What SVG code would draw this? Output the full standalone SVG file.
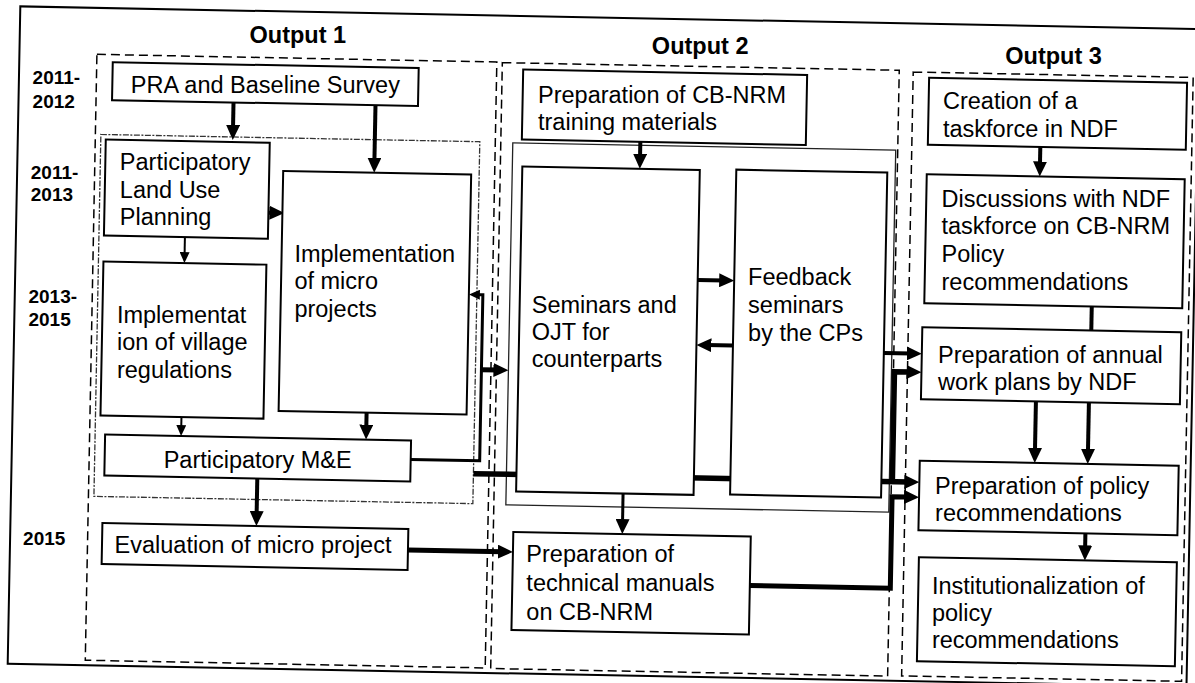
<svg xmlns="http://www.w3.org/2000/svg" width="1195" height="683" viewBox="0 0 1195 683">
<style>
.t{font-family:"Liberation Sans",Arial,sans-serif;font-size:23.5px;fill:#000}
.m{text-anchor:middle}
.h{font-family:"Liberation Sans",Arial,sans-serif;font-size:23.5px;font-weight:bold;fill:#000;text-anchor:middle}
.y{font-family:"Liberation Sans",Arial,sans-serif;font-size:19px;font-weight:bold;fill:#000}
.b{fill:#fff;stroke:#000;stroke-width:2}
.d{fill:none;stroke:#000;stroke-width:1.5;stroke-dasharray:9 5}
.i1{fill:none;stroke:#333;stroke-width:1.3;stroke-dasharray:6 1.5 2 1.5}
.i2{fill:none;stroke:#222;stroke-width:1.3}
.c{fill:none;stroke:#000;stroke-linejoin:miter}
.w2{stroke-width:2}.w3{stroke-width:3}.w4{stroke-width:4}.w5{stroke-width:5}.w55{stroke-width:5.5}
.ah{marker-end:url(#ah)}.as{marker-end:url(#as)}
</style>
<defs>
<marker id="ah" viewBox="0 0 15 14" refX="5" refY="7" markerWidth="15" markerHeight="14" markerUnits="userSpaceOnUse" orient="auto"><path d="M0,0 L15,7 L0,14 z" fill="#000"/></marker>
<marker id="as" viewBox="0 0 11 10" refX="3" refY="5" markerWidth="11" markerHeight="10" markerUnits="userSpaceOnUse" orient="auto"><path d="M0,0 L11,5 L0,10 z" fill="#000"/></marker>
</defs>
<rect x="0" y="0" width="1195" height="683" fill="#fff"/>
<g transform="rotate(1.1 597 341)">
<rect id="frame" x="14" y="17.5" width="1179" height="657.5" fill="none" stroke="#000" stroke-width="2"/>
<g id="output1">
<rect class="d" x="91.5" y="64" width="400" height="606"/>
<text class="h" x="292" y="49" transform="rotate(-1.1 292 42)">Output 1</text>
<rect class="i1" x="97" y="144" width="379" height="362"/>
</g>
<g id="output2">
<rect class="d" x="497" y="64.5" width="397" height="606"/>
<text class="h" x="694.5" y="52" transform="rotate(-1.1 694.5 45)">Output 2</text>
<rect class="i2" x="509" y="144.5" width="383" height="362"/>
</g>
<g id="output3">
<rect class="d" x="908" y="66" width="280" height="604"/>
<text class="h" x="1048" y="55.5" transform="rotate(-1.1 1048 48)">Output 3</text>
</g>
<g id="years">
<g transform="rotate(-1.1 52 106)"><text class="y" x="28" y="94">2011-</text><text class="y" x="28" y="118">2012</text></g>
<g transform="rotate(-1.1 52 200)"><text class="y" x="28" y="189">2011-</text><text class="y" x="28" y="211">2013</text></g>
<g transform="rotate(-1.1 52 324)"><text class="y" x="28" y="313">2013-</text><text class="y" x="28" y="336">2015</text></g>
<text class="y" x="27" y="556" transform="rotate(-1.1 48 550)">2015</text>
</g>
<g id="connectors">
<path class="c w4 ah" d="M229,109.5 V137"/>
<path class="c w4 ah" d="M371,109.5 V167"/>
<path class="c w4 ah" d="M266,219 H272"/>
<path class="c w2 as" d="M183,245 V263"/>
<path class="c w2 as" d="M183,425 V436"/>
<path class="c w4 ah" d="M368,417 V434"/>
<path class="c w3 as" d="M413,463 H482 V297 H476"/>
<path class="c w5 ah" d="M482,372 H499"/>
<path class="c w55 ah" d="M476,476 H912"/>
<path class="c w55 ah" d="M895,478 V366 H912"/>
<path class="c w4 ah" d="M884,347.5 H912"/>
<path class="c w5 ah" d="M754.5,582.5 H895 V491 H912"/>
<path class="c w4 ah" d="M260,485 V522.5"/>
<path class="c w5 ah" d="M412,553.5 H507"/>
<path class="c w4 ah" d="M636.5,141 V158"/>
<path class="c w4 ah" d="M696.5,278 H723"/>
<path class="c w4 ah" d="M733,343 H706.5"/>
<path class="c w3 ah" d="M626,493 V523.5"/>
<path class="c w4 ah" d="M1036.5,138.5 V158"/>
<path class="c w4" d="M1091,297 V321"/>
<path class="c w4 ah" d="M1037,393 V444.5"/>
<path class="c w4 ah" d="M1090,393 V444.5"/>
<path class="c w4 ah" d="M1089,524 V541"/>
</g>
<g id="pra"><rect class="b" x="107.5" y="71.5" width="306" height="38"/><g transform="rotate(-1.1 260.5 90.5)"><text class="t m" x="260.5" y="99">PRA and Baseline Survey</text></g></g>
<g id="plup"><rect class="b" x="102" y="149" width="164" height="96"/><g transform="rotate(-1.1 184 197)"><text class="t" x="117" y="178">Participatory</text><text class="t" x="117" y="205.5">Land Use</text><text class="t" x="117" y="233">Planning</text></g></g>
<g id="impl"><rect class="b" x="280" y="177" width="188" height="240"/><g transform="rotate(-1.1 374 297)"><text class="t" x="293.5" y="266">Implementation</text><text class="t" x="293.5" y="293.5">of micro</text><text class="t" x="293.5" y="321">projects</text></g></g>
<g id="village"><rect class="b" x="102" y="271" width="163" height="154"/><g transform="rotate(-1.1 183.5 348)"><text class="t" x="117" y="331">Implementat</text><text class="t" x="117" y="358">ion of village</text><text class="t" x="117" y="386">regulations</text></g></g>
<g id="me"><rect class="b" x="107" y="444" width="306" height="41"/><g transform="rotate(-1.1 260 464.5)"><text class="t m" x="260" y="474">Participatory M&amp;E</text></g></g>
<g id="eval"><rect class="b" x="106" y="532.5" width="306" height="41"/><g transform="rotate(-1.1 257 553)"><text class="t m" x="257" y="560">Evaluation of micro project</text></g></g>
<g id="cbnrm"><rect class="b" x="518" y="71" width="284" height="70"/><g transform="rotate(-1.1 660 106)"><text class="t" x="533.5" y="101.5">Preparation of CB-NRM</text><text class="t" x="533.5" y="128.5">training materials</text></g></g>
<g id="seminars"><rect class="b" x="519" y="168" width="177.5" height="325"/><g transform="rotate(-1.1 608 330)"><text class="t" x="531.5" y="313">Seminars and</text><text class="t" x="531.5" y="340">OJT for</text><text class="t" x="531.5" y="367">counterparts</text></g></g>
<g id="feedback"><rect class="b" x="733" y="167" width="151" height="325"/><g transform="rotate(-1.1 808 310)"><text class="t" x="747.5" y="281">Feedback</text><text class="t" x="747.5" y="309">seminars</text><text class="t" x="747.5" y="337">by the CPs</text></g></g>
<g id="manuals"><rect class="b" x="517" y="533.5" width="237.5" height="98"/><g transform="rotate(-1.1 636 582)"><text class="t" x="531" y="561">Preparation of</text><text class="t" x="531" y="590">technical manuals</text><text class="t" x="531" y="619">on CB-NRM</text></g></g>
<g id="taskforce"><rect class="b" x="924" y="71.5" width="258" height="67"/><g transform="rotate(-1.1 1053 105)"><text class="t" x="938.5" y="100.5">Creation of a</text><text class="t" x="938.5" y="128">taskforce in NDF</text></g></g>
<g id="discussions"><rect class="b" x="923.5" y="168" width="258" height="129"/><g transform="rotate(-1.1 1052 232)"><text class="t" x="939.5" y="198.5">Discussions with NDF</text><text class="t" x="939.5" y="225.5">taskforce on CB-NRM</text><text class="t" x="939.5" y="253.5">Policy</text><text class="t" x="939.5" y="281.5">recommendations</text></g></g>
<g id="annual"><rect class="b" x="922" y="321" width="259" height="72"/><g transform="rotate(-1.1 1051 357)"><text class="t" x="938.5" y="354.5">Preparation of annual</text><text class="t" x="938.5" y="381.5">work plans by NDF</text></g></g>
<g id="policy"><rect class="b" x="922" y="454.5" width="259" height="69.5"/><g transform="rotate(-1.1 1051 489)"><text class="t" x="938" y="485">Preparation of policy</text><text class="t" x="938" y="512.5">recommendations</text></g></g>
<g id="institution"><rect class="b" x="923" y="551" width="258" height="104"/><g transform="rotate(-1.1 1052 603)"><text class="t" x="937" y="585">Institutionalization of</text><text class="t" x="937" y="612">policy</text><text class="t" x="937" y="639">recommendations</text></g></g>
</g>
</svg>
